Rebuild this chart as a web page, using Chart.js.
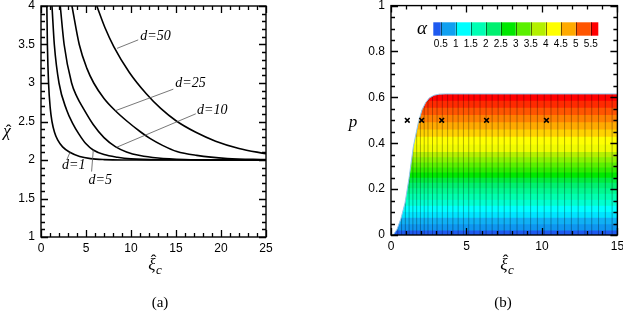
<!DOCTYPE html>
<html>
<head>
<meta charset="utf-8">
<script src="https://cdn.jsdelivr.net/npm/chart.js@4.4.1/dist/chart.umd.min.js"></script>
<style>
  html, body { margin: 0; padding: 0; background: #fff; }
  #wrap { position: relative; width: 623px; height: 317px; }
  canvas { position: absolute; top: 0; }
  #left { left: 0; }
  #right { left: 311px; }
</style>
</head>
<body>
<div id="wrap">
  <canvas id="left" width="300" height="317"></canvas>
  <canvas id="right" width="312" height="317"></canvas>
</div>
<script>
'use strict'

// ---- panel (a): chi-hat vs xi-hat_c, one curve per d ----
const xiD1   = [0.65, 0.71, 0.84, 1.03, 1.22, 1.5, 1.85, 2.4, 3.2, 4.3, 5.5, 7, 9, 25];
const chiD1  = [4.0, 3.5, 3.0, 2.67, 2.5, 2.36, 2.26, 2.17, 2.1, 2.045, 2.018, 2.005, 2.0, 2.0];
const xiD5   = [1.22, 1.48, 2.0, 2.85, 3.5, 4.2, 5.0, 5.8, 7.0, 8.5, 10, 13, 25];
const chiD5  = [4.0, 3.5, 3.0, 2.65, 2.48, 2.34, 2.21, 2.13, 2.07, 2.035, 2.015, 2.004, 2.0];
const xiD10  = [2.14, 2.57, 3.4, 4.0, 4.7, 5.8, 7.0, 8.3, 9.5, 11, 13, 16, 20, 25];
const chiD10 = [4.0, 3.5, 3.0, 2.82, 2.67, 2.46, 2.29, 2.17, 2.105, 2.058, 2.026, 2.007, 2.001, 2.0];
const xiD25  = [3.44, 4.25, 5.1, 5.86, 7.0, 8.26, 9.6, 11, 12.1, 13.5, 15.1, 17.3, 20.7, 25];
const chiD25 = [4.0, 3.5, 3.19, 3.0, 2.8, 2.64, 2.5, 2.37, 2.28, 2.19, 2.11, 2.06, 2.02, 2.005];
const xiD50  = [6.2, 7.1, 8.1, 9.8, 11.7, 13.3, 15, 17.2, 19.4, 22, 25];
const chiD50 = [4.0, 3.72, 3.47, 3.14, 2.86, 2.67, 2.51, 2.36, 2.245, 2.15, 2.08];

// ---- panel (b): contour of alpha over (xi-hat_c, p) ----
const edgeXi = [0.15, 0.4, 0.65, 0.93, 1.2, 1.48, 1.81, 2.05, 2.3, 2.55, 2.85, 3.2, 3.6, 15];
const edgeP  = [0, 0.025, 0.07, 0.14, 0.25, 0.385, 0.49, 0.545, 0.578, 0.598, 0.609, 0.614, 0.615, 0.615];
const bandFromP = [0, 0.02, 0.047, 0.075, 0.1, 0.128, 0.154, 0.18, 0.204, 0.228, 0.25, 0.272,
                   0.294, 0.316, 0.339, 0.362, 0.395, 0.428, 0.46, 0.492, 0.523, 0.555, 0.585];
const bandColors = ['#1E5AF0', '#0E96F0', '#10B0F4', '#00E4FF', '#00FFFF', '#00FFD0', '#00FFB0',
                    '#00F890', '#00F070', '#00EC40', '#00E800', '#30EC00', '#5AF000', '#88F200',
                    '#B4F000', '#F0FC00', '#FFFF00', '#FFD200', '#FFAA00', '#FF8000', '#FF5500',
                    '#FF2A00', '#FF0000'];
const regionTopP = 0.615;
const meshXi = [0.45, 0.7, 0.95, 1.2, 1.45, 1.7, 1.95, 2.2, 2.45, 2.75, 3.05, 3.4, 3.75, 4.1, 4.45,
                4.8, 5.15, 5.5, 5.9, 6.3, 6.7, 7.1, 7.5, 7.9, 8.35, 8.8, 9.25, 9.7, 10.15, 10.6,
                11.05, 11.5, 11.95, 12.4, 12.85, 13.3, 13.75, 14.2, 14.65];
const markXi = [1.08, 2.03, 3.36, 6.33, 10.3];
const markP  = [0.5, 0.5, 0.5, 0.5, 0.5];
const cbColors = ['#1E5AF0', '#10A0F0', '#00FFFF', '#00FFB4', '#00F070', '#00E800',
                  '#5AF000', '#B4F000', '#FFFF00', '#FFAA00', '#FF5500', '#FF0000'];
const cbLabels = ['0.5', '1', '1.5', '2', '2.5', '3', '3.5', '4', '4.5', '5', '5.5'];

const sansFamily = "'Liberation Sans Narrow', 'Liberation Sans', Arial, sans-serif";
const tickFont = {family: sansFamily, size: 12};
const serif = '"Liberation Serif", "DejaVu Serif", serif';

const zip = (xs, ys) => xs.map((x, i) => ({x, y: ys[i]}));

function tickList(min, max, major, minor) {
    const out = [];
    const n = Math.round((max - min) / minor);
    for (let i = 0; i <= n; i++) {
        const v = min + i * minor;
        const q = (v - min) / major;
        out.push([v, Math.abs(q - Math.round(q)) < 1e-6 ? 7 : 4]);
    }
    return out;
}

function drawFrame(chart, xt, yt) {
    const {ctx, chartArea: a, scales} = chart;
    ctx.save();
    ctx.strokeStyle = '#000';
    ctx.lineWidth = 1.3;
    ctx.beginPath();
    xt.forEach(([v, len]) => {
        const px = Math.round(scales.x.getPixelForValue(v)) + 0.5;
        ctx.moveTo(px, a.bottom);
        ctx.lineTo(px, a.bottom - len);
        ctx.moveTo(px, a.top);
        ctx.lineTo(px, a.top + len);
    });
    yt.forEach(([v, len]) => {
        const py = Math.round(scales.y.getPixelForValue(v)) + 0.5;
        ctx.moveTo(a.left, py);
        ctx.lineTo(a.left + len, py);
        ctx.moveTo(a.right, py);
        ctx.lineTo(a.right - len, py);
    });
    ctx.stroke();
    ctx.lineWidth = 1.4;
    ctx.strokeRect(a.left, a.top, a.right - a.left, a.bottom - a.top);
    ctx.restore();
}

// italic letter with a hat drawn as a separate circumflex glyph
function hatted(ctx, ch, cx, base, size, lift) {
    ctx.font = 'italic ' + size + 'px ' + serif;
    ctx.textAlign = 'center';
    ctx.textBaseline = 'alphabetic';
    ctx.fillText(ch, cx, base);
    ctx.font = size + 'px ' + serif;
    ctx.fillText('\u02C6', cx + 1.5, base - lift);
}

function drawXiC(ctx, cx, base) {
    hatted(ctx, '\u03BE', cx, base, 17, 4);
    ctx.font = 'italic 13px ' + serif;
    ctx.textAlign = 'left';
    ctx.fillText('c', cx + 4, base + 4);
}

const fmt = v => String(Number(v.toFixed(2)));

function axisOpts(min, max, step, fit) {
    return {
        type: 'linear', min, max,
        ticks: {stepSize: step, color: '#000', font: tickFont, maxRotation: 0, padding: fit.pad, callback: fmt},
        grid: {display: false, drawTicks: false},
        border: {display: false},
        afterFit: fit.fn
    };
}

// ---- left chart ----
const curveLabels = [
    {text: 'd=50', at: [11.03, 3.61], from: [8.45, 3.45], to: [10.8, 3.56]},
    {text: 'd=25', at: [14.92, 3.0],  from: [8.26, 2.64], to: [14.7, 2.92]},
    {text: 'd=10', at: [17.33, 2.65], from: [8.4, 2.165], to: [17.2, 2.6]},
    {text: 'd=1',  at: [2.33, 1.93],  from: [3.22, 2.1],  to: [2.86, 2.0]},
    {text: 'd=5',  at: [5.29, 1.74],  from: [5.81, 2.13], to: [5.62, 1.85]}
];

const leftDecor = {
    id: 'leftDecor',
    afterDraw(chart) {
        const {ctx, scales: {x, y}} = chart;
        drawFrame(chart, tickList(0, 25, 5, 1), tickList(1, 4, 0.5, 0.1));
        ctx.save();
        ctx.strokeStyle = '#555';
        ctx.lineWidth = 0.8;
        ctx.fillStyle = '#000';
        ctx.font = 'italic 14px ' + serif;
        ctx.textBaseline = 'middle';
        ctx.textAlign = 'left';
        curveLabels.forEach(l => {
            ctx.beginPath();
            ctx.moveTo(x.getPixelForValue(l.from[0]), y.getPixelForValue(l.from[1]));
            ctx.lineTo(x.getPixelForValue(l.to[0]), y.getPixelForValue(l.to[1]));
            ctx.stroke();
            ctx.fillText(l.text, x.getPixelForValue(l.at[0]), y.getPixelForValue(l.at[1]));
        });
        hatted(ctx, '\u03C7', 7, 136, 17, 0);
        drawXiC(ctx, 152, 270);
        ctx.font = '15px ' + serif;
        ctx.textAlign = 'center';
        ctx.fillText('(a)', 160, 307);
        ctx.restore();
    }
};

const curves = [[xiD1, chiD1], [xiD5, chiD5], [xiD10, chiD10], [xiD25, chiD25], [xiD50, chiD50]];

new Chart(document.getElementById('left'), {
    type: 'scatter',
    data: {
        datasets: curves.map(([xs, ys]) => ({
            data: zip(xs, ys),
            showLine: true,
            borderColor: '#000',
            borderWidth: 1.6,
            pointRadius: 0,
            cubicInterpolationMode: 'monotone'
        }))
    },
    options: {
        responsive: false,
        animation: false,
        layout: {padding: {top: 6, right: 34, left: 0, bottom: 0}},
        plugins: {legend: {display: false}, tooltip: {enabled: false}},
        scales: {
            x: axisOpts(0, 25, 5, {pad: 4, fn: s => { s.height = 80; s.paddingLeft = 0; s.paddingRight = 0; }}),
            y: axisOpts(1, 4, 0.5, {pad: 6, fn: s => { s.width = 41; s.paddingTop = 0; s.paddingBottom = 0; }})
        }
    },
    plugins: [leftDecor]
});

// ---- right chart ----
const rightDecor = {
    id: 'rightDecor',
    afterDraw(chart) {
        const {ctx} = chart;
        drawFrame(chart, tickList(0, 15, 5, 1), tickList(0, 1, 0.2, 0.05));
        ctx.save();
        // colour bar
        const x0 = 122.3, top = 22.3, h = 13.4, seg = 15, half = 7.5;
        let cx = x0;
        cbColors.forEach((c, i) => {
            const w = (i === 0 || i === cbColors.length - 1) ? half : seg;
            ctx.fillStyle = c;
            ctx.fillRect(cx, top, w, h);
            cx += w;
        });
        ctx.strokeStyle = 'rgba(0,0,0,0.55)';
        ctx.lineWidth = 1;
        ctx.beginPath();
        cbLabels.forEach((t, i) => {
            const bx = Math.round(x0 + half + i * seg) + 0.5;
            ctx.moveTo(bx, top);
            ctx.lineTo(bx, top + h);
        });
        ctx.stroke();
        ctx.fillStyle = '#000';
        ctx.font = '10px ' + sansFamily;
        ctx.textAlign = 'center';
        ctx.textBaseline = 'middle';
        cbLabels.forEach((t, i) => ctx.fillText(t, x0 + half + i * seg, 44.5));
        ctx.textBaseline = 'alphabetic';
        ctx.font = 'italic 19px ' + serif;
        ctx.fillText('\u03B1', 111, 34);
        ctx.font = 'italic 17px ' + serif;
        ctx.fillText('p', 42, 127);
        drawXiC(ctx, 193, 270);
        ctx.font = '15px ' + serif;
        ctx.textAlign = 'center';
        ctx.fillText('(b)', 192, 307);
        ctx.restore();
    }
};

const bandSets = bandFromP.map((p0, i) => ({
    data: [{x: 0, y: p0}, {x: 15, y: p0}, {x: 15, y: regionTopP}, {x: 0, y: regionTopP}, {x: 0, y: p0}],
    showLine: true,
    fill: 'shape',
    backgroundColor: bandColors[i],
    borderWidth: 0,
    pointRadius: 0,
    order: 100 - i
}));

const meshData = [];
meshXi.forEach(v => {
    meshData.push({x: v, y: 0}, {x: v, y: regionTopP}, {x: v, y: null});
});

const maskData = [{x: -0.3, y: -0.02}, {x: edgeXi[0], y: -0.02}]
    .concat(zip(edgeXi.slice(0, -1), edgeP.slice(0, -1)))
    .concat([{x: edgeXi[edgeXi.length - 2], y: 0.65}, {x: -0.3, y: 0.65}, {x: -0.3, y: -0.02}]);

new Chart(document.getElementById('right'), {
    type: 'scatter',
    data: {
        datasets: [
            {
                data: zip(markXi, markP),
                pointStyle: 'crossRot',
                pointRadius: 3.3,
                borderColor: '#000',
                borderWidth: 1.6,
                order: 0
            },
            {
                data: zip(edgeXi, edgeP),
                showLine: true,
                borderColor: '#8ec6ee',
                borderWidth: 1,
                pointRadius: 0,
                order: 1
            },
            {
                data: maskData,
                showLine: true,
                fill: 'shape',
                backgroundColor: '#fff',
                borderWidth: 0,
                pointRadius: 0,
                order: 2
            },
            {
                data: meshData,
                showLine: true,
                spanGaps: false,
                borderColor: 'rgba(0,0,0,0.3)',
                borderWidth: 1,
                pointRadius: 0,
                order: 3
            }
        ].concat(bandSets)
    },
    options: {
        responsive: false,
        animation: false,
        layout: {padding: {top: 5, right: 5, left: 0, bottom: 0}},
        plugins: {legend: {display: false}, tooltip: {enabled: false}},
        scales: {
            x: axisOpts(0, 15, 5, {pad: 4, fn: s => { s.height = 82; s.paddingLeft = 0; s.paddingRight = 0; }}),
            y: axisOpts(0, 1, 0.2, {pad: 6, fn: s => { s.width = 80; s.paddingTop = 0; s.paddingBottom = 0; }})
        }
    },
    plugins: [rightDecor]
});
</script>
</body>
</html>
